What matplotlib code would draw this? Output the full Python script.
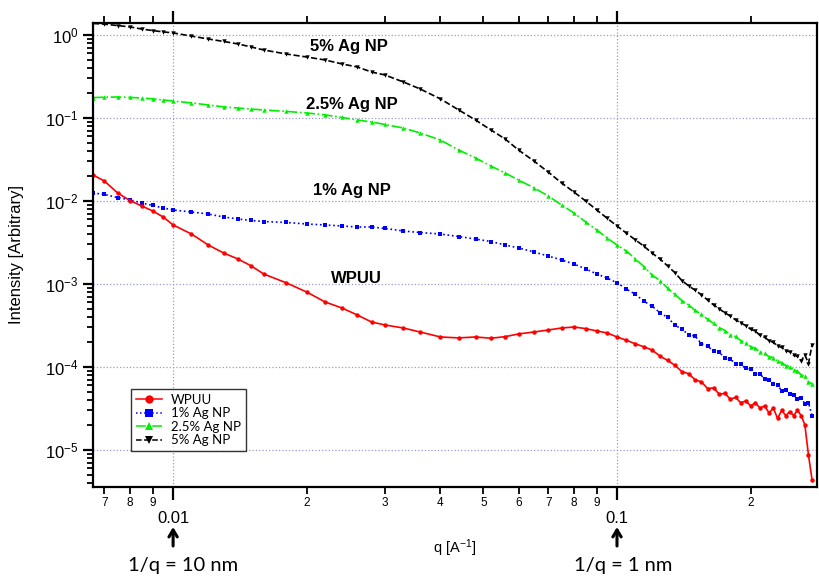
import numpy as np
import matplotlib
matplotlib.use('Agg')
import matplotlib.pyplot as plt
from matplotlib.ticker import LogLocator, FuncFormatter, NullFormatter
from matplotlib.lines import Line2D

plt.rcParams['font.family'] = ['Liberation Sans', 'DejaVu Sans']
plt.rcParams['mathtext.fontset'] = 'custom'
plt.rcParams['mathtext.rm'] = 'Liberation Sans'
plt.rcParams['mathtext.it'] = 'Liberation Sans:italic'
plt.rcParams['mathtext.bf'] = 'Liberation Sans:bold'

# --- data: SAXS intensity vs q ---
q = [0.0066, 0.007, 0.0075, 0.008, 0.0085, 0.009, 0.0095, 0.010, 0.011, 0.012,
     0.013, 0.014, 0.015, 0.016, 0.018, 0.020, 0.022, 0.024, 0.026, 0.028,
     0.030, 0.033, 0.036, 0.040, 0.044, 0.048, 0.052, 0.056, 0.060, 0.065,
     0.070, 0.075, 0.080, 0.085, 0.090, 0.095,
     0.100, 0.105, 0.110, 0.115, 0.120, 0.125, 0.130, 0.135, 0.140, 0.145,
     0.150, 0.155, 0.160, 0.165, 0.170, 0.175, 0.180, 0.185, 0.190, 0.195,
     0.200, 0.205, 0.210, 0.215, 0.220, 0.225, 0.230, 0.235, 0.240, 0.245,
     0.250, 0.255, 0.260, 0.265, 0.270, 0.275]

wpuu = [0.0206, 0.0174, 0.0125, 0.0101, 0.0087, 0.00758, 0.00641, 0.00514, 0.0040, 0.00295,
        0.00236, 0.0020, 0.00165, 0.00132, 0.00103, 0.00080, 0.000607, 0.000514, 0.000423, 0.000348,
        0.000321, 0.000295, 0.000264, 0.00023, 0.000224, 0.00023, 0.000222, 0.000232, 0.00025, 0.000264,
        0.000279, 0.000295, 0.000303, 0.000290, 0.000272, 0.000257,
        2.3e-4, 2.1e-4, 1.9e-4, 1.75e-4, 1.6e-4, 1.35e-4, 1.2e-4, 1.05e-4, 8.8e-5, 8.3e-5,
        7.0e-5, 6.6e-5, 5.5e-5, 5.6e-5, 4.7e-5, 4.8e-5, 4.1e-5, 4.3e-5, 3.7e-5, 3.9e-5,
        3.4e-5, 3.7e-5, 3.2e-5, 3.4e-5, 2.8e-5, 3.2e-5, 2.4e-5, 3.0e-5, 2.6e-5, 2.9e-5,
        2.6e-5, 3.0e-5, 2.6e-5, 2.0e-5, 8.7e-6, 4.4e-6]

ag1 = [0.0125, 0.0120, 0.0110, 0.0103, 0.00946, 0.00883, 0.00824, 0.0078, 0.00737, 0.00697,
       0.00641, 0.00607, 0.00582, 0.00566, 0.00551, 0.00528, 0.00514, 0.0050, 0.00486, 0.00486,
       0.00467, 0.00435, 0.00417, 0.0040, 0.00373, 0.00348, 0.00325, 0.00295, 0.00272, 0.00243,
       0.00217, 0.00195, 0.00174, 0.00152, 0.00132, 0.00118,
       1.03e-3, 8.7e-4, 7.5e-4, 6.2e-4, 5.4e-4, 4.5e-4, 3.95e-4, 3.2e-4, 2.85e-4, 2.45e-4,
       2.35e-4, 1.9e-4, 1.78e-4, 1.55e-4, 1.5e-4, 1.28e-4, 1.24e-4, 1.1e-4, 1.08e-4, 9.6e-5,
       9.4e-5, 8.2e-5, 8.2e-5, 7.2e-5, 6.9e-5, 6.2e-5, 6.0e-5, 5.2e-5, 5.3e-5, 4.7e-5,
       4.6e-5, 4.1e-5, 4.2e-5, 3.6e-5, 3.7e-5, 2.6e-5]

ag25 = [0.176, 0.178, 0.179, 0.177, 0.174, 0.170, 0.165, 0.160, 0.152, 0.1435,
        0.136, 0.132, 0.128, 0.125, 0.120, 0.115, 0.109, 0.1015, 0.0946, 0.0895,
        0.0835, 0.0758, 0.066, 0.0543, 0.0411, 0.033, 0.0264, 0.0217, 0.0179, 0.0144,
        0.0115, 0.00895, 0.00717, 0.00558, 0.00448, 0.00358,
        2.95e-3, 2.5e-3, 2.0e-3, 1.62e-3, 1.28e-3, 1.1e-3, 8.9e-4, 7.5e-4, 6.3e-4, 5.6e-4,
        4.8e-4, 4.3e-4, 3.75e-4, 3.35e-4, 2.98e-4, 2.75e-4, 2.45e-4, 2.33e-4, 2.08e-4, 1.97e-4,
        1.76e-4, 1.67e-4, 1.52e-4, 1.46e-4, 1.33e-4, 1.3e-4, 1.18e-4, 1.13e-4, 1.04e-4, 1.01e-4,
        9.2e-5, 8.9e-5, 8.0e-5, 7.8e-5, 6.6e-5, 6.3e-5]

ag5 = [1.38, 1.35, 1.30, 1.25, 1.18, 1.13, 1.09, 1.06, 0.97, 0.895,
       0.836, 0.78, 0.717, 0.66, 0.59, 0.543, 0.50, 0.448, 0.412, 0.358,
       0.33, 0.272, 0.224, 0.17, 0.125, 0.0946, 0.0717, 0.0558, 0.0411, 0.0303,
       0.0223, 0.0165, 0.0128, 0.0100, 0.0078, 0.0062,
       5.0e-3, 4.1e-3, 3.4e-3, 2.85e-3, 2.35e-3, 2.0e-3, 1.65e-3, 1.37e-3, 1.1e-3, 9.5e-4,
       8.4e-4, 7.4e-4, 6.4e-4, 5.6e-4, 5.0e-4, 4.5e-4, 4.1e-4, 3.7e-4, 3.4e-4, 3.15e-4,
       2.85e-4, 2.7e-4, 2.4e-4, 2.28e-4, 2.08e-4, 1.98e-4, 1.8e-4, 1.72e-4, 1.57e-4, 1.53e-4,
       1.38e-4, 1.35e-4, 1.18e-4, 1.4e-4, 1.1e-4, 1.85e-4]

labels = ['WPUU', '1% Ag NP', '2.5% Ag NP', '5% Ag NP']
colors = ['#ff0000', '#0000ff', '#00ee00', '#000000']
markers = ['o', 's', '^', 'v']
styles = ['-', ':', '-.', '--']
series = [wpuu, ag1, ag25, ag5]

W, H = 819, 577
fig = plt.figure(figsize=(W / 100, H / 100), dpi=100)
ax = fig.add_axes([93 / W, 1 - 487 / H, 724 / W, 464 / H])

# draw back to front so WPUU sits on top
for vals, c, m, ls, lab in reversed(list(zip(series, colors, markers, styles, labels))):
    ax.plot(q, vals, color=c, marker=m, linestyle=ls, linewidth=1.2,
            markersize=3.2, markeredgewidth=0, label=lab)

ax.set_xscale('log')
ax.set_yscale('log')
ax.set_xlim(0.0066, 0.2822)
ax.set_ylim(3.58e-6, 1.395)

for s in ax.spines.values():
    s.set_linewidth(1.6)

# x ticks: outward on bottom and top, labels on bottom only
ax.xaxis.set_major_locator(LogLocator(base=10))
ax.xaxis.set_minor_locator(LogLocator(base=10, subs=np.arange(2, 10)))
ax.xaxis.set_major_formatter(FuncFormatter(lambda v, p: f'{v:g}'))
ax.xaxis.set_minor_formatter(FuncFormatter(
    lambda v, p: str(int(round(v / 10 ** np.floor(np.log10(v) + 1e-9))))))
ax.tick_params(axis='x', which='major', direction='out', top=True, length=9,
               width=1.6, pad=8.5, labelsize=12)
ax.tick_params(axis='x', which='minor', direction='out', top=True, length=5,
               width=1.3, pad=2.5, labelsize=8.5)

ax.yaxis.set_major_locator(LogLocator(base=10))
ax.yaxis.set_minor_locator(LogLocator(base=10, subs=np.arange(2, 10)))
ax.yaxis.set_minor_formatter(NullFormatter())
ax.tick_params(axis='y', which='major', direction='out', right=False, length=7.5,
               width=1.6, pad=3, labelsize=12)
ax.tick_params(axis='y', which='minor', direction='out', right=False, length=4.5,
               width=1.3)

ax.grid(True, which='major', linestyle=':', color='#9a9ac8', linewidth=0.9)

# curve labels
for txt, x, y in [('5% Ag NP', 349, 47), ('2.5% Ag NP', 352, 104),
                  ('1% Ag NP', 352, 190), ('WPUU', 356, 279)]:
    fig.text(x / W, 1 - y / H, txt, ha='center', va='center', fontsize=12, fontweight='bold')

fig.text(17 / W, 1 - 255 / H, 'Intensity [Arbitrary]', rotation=90, ha='center', va='center', fontsize=12)
fig.text(455 / W, 1 - 548 / H, 'q [A$^{-1}$]', ha='center', va='center', fontsize=10.5)

# length-scale markers under the axis
for qv, txt, tx in [(0.01, '1/q = 10 nm', 183), (0.1, '1/q = 1 nm', 623)]:
    ax.annotate('', xy=(qv, 1 - 527 / H), xytext=(qv, 1 - 546 / H),
                xycoords=('data', 'figure fraction'), textcoords=('data', 'figure fraction'),
                arrowprops=dict(arrowstyle='->,head_width=0.3,head_length=0.5',
                                color='black', lw=2.2, shrinkA=0, shrinkB=0),
                annotation_clip=False)
    fig.text(tx / W, 1 - 565 / H, txt, ha='center', va='center', fontsize=14.5, family='Lato')

handles = [Line2D([], [], color=c, marker=m, linestyle=ls, linewidth=1.1, markersize=6,
                  markeredgewidth=0, label=lab)
           for c, m, ls, lab in zip(colors, markers, styles, labels)]
leg = ax.legend(handles=handles, loc='upper left', bbox_to_anchor=(38 / 724, 98 / 464),
                borderaxespad=0, fancybox=False, frameon=True, edgecolor='black',
                prop={'family': 'Lato', 'size': 9.5}, handlelength=2.0, labelspacing=0.12,
                borderpad=0.35, handletextpad=0.7)
leg.get_frame().set_linewidth(1.0)

fig.savefig('out.png', dpi=100)
